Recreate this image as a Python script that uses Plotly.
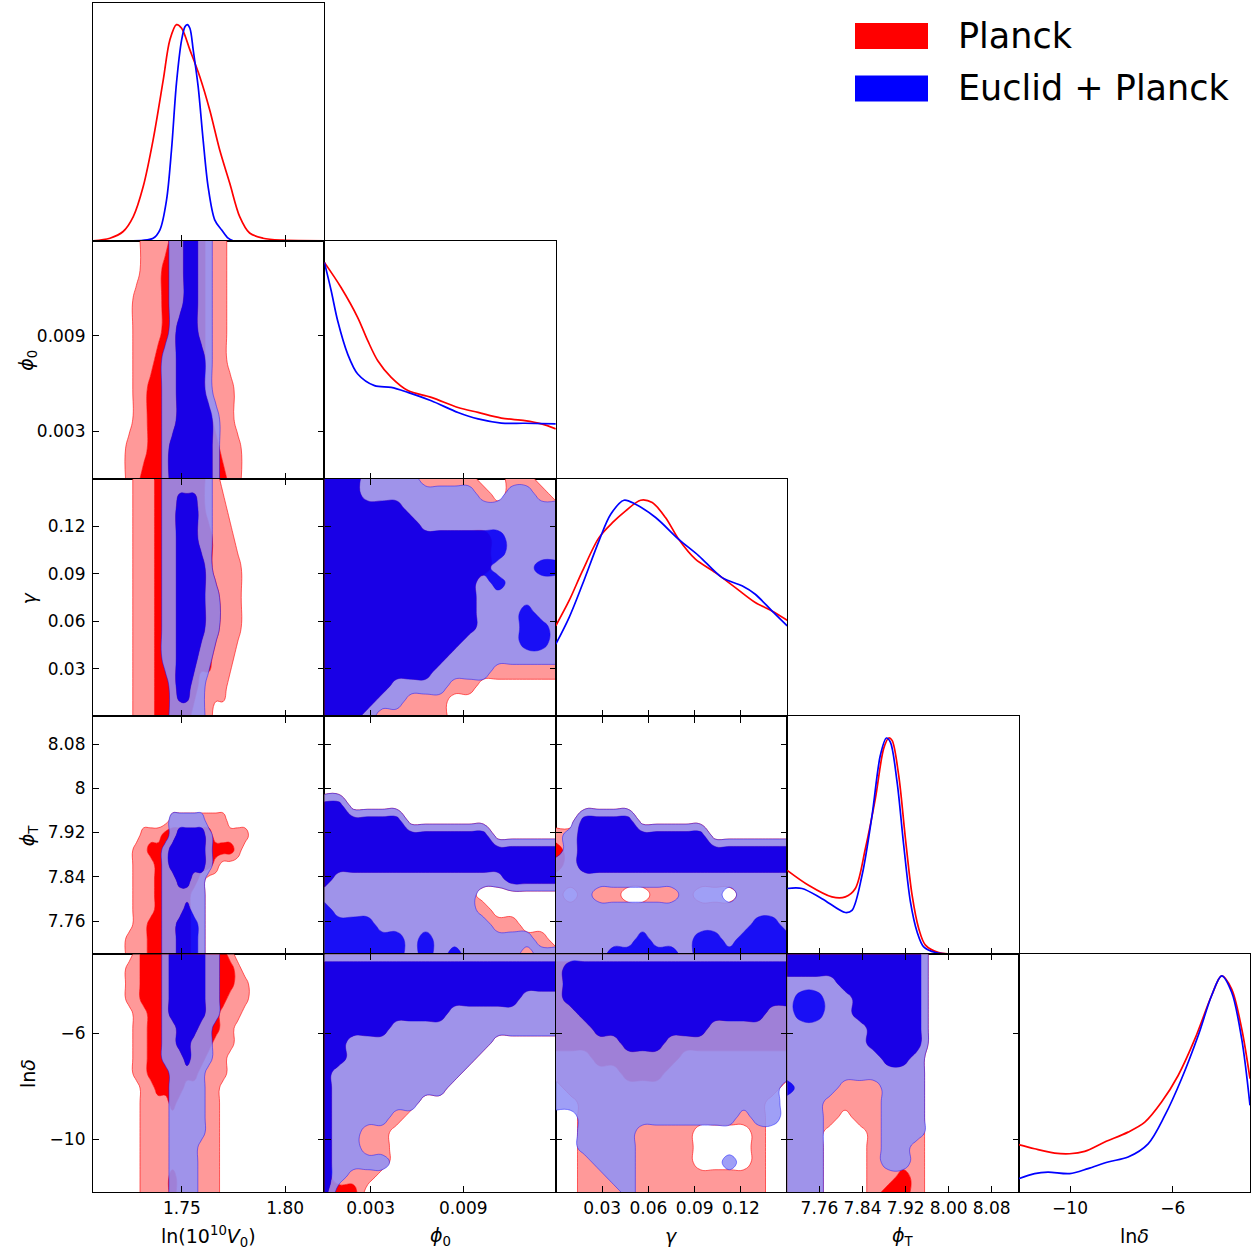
import numpy as np
import plotly.graph_objects as go

W, H = 1256, 1250
X_EDGES = [93, 324.4, 555.8, 787.2, 1018.6, 1250]
Y_EDGES = [3, 240.8, 478.6, 716.4, 954.2, 1192]

LABELS = ["ln(10<sup>10</sup><i>V</i><sub>0</sub>)", "<i>ϕ</i><sub>0</sub>", "<i>γ</i>",
          "<i>ϕ</i><sub>T</sub>", "ln<i>δ</i>"]
RANGES = [[1.707, 1.819], [0.0, 0.015], [0.0, 0.15], [7.70, 8.13], [-12.0, -3.0]]
TICKVALS = [[1.75, 1.80], [0.003, 0.009], [0.03, 0.06, 0.09, 0.12],
            [7.76, 7.84, 7.92, 8.00, 8.08], [-10, -6]]
XTICKTEXT = [["1.75", "1.80"], ["0.003", "0.009"], ["0.03", "0.06", "0.09", "0.12"],
             ["7.76", "7.84", "7.92", "8.00", "8.08"], ["\u221210", "\u22126"]]
YTICKTEXT = [["1.75", "1.80"], ["0.003", "0.009"], ["0.03", "0.06", "0.09", "0.12"],
             ["7.76", "7.84", "7.92", "8", "8.08"], ["\u221210", "\u22126"]]

# ---------------- 1D marginal densities ----------------
LNV0_X_PLANCK = [1.7071, 1.7152, 1.7216, 1.7265, 1.7313, 1.7361, 1.7410, 1.7442, 1.7474, 1.7499,
                 1.7539, 1.7587, 1.7635, 1.7683, 1.7732, 1.7780, 1.7828, 1.7893, 1.7989, 1.8190]
LNV0_P_PLANCK = [0.0, 0.012, 0.043, 0.112, 0.251, 0.467, 0.744, 0.929, 1.0, 0.983,
                 0.883, 0.759, 0.605, 0.421, 0.266, 0.112, 0.036, 0.012, 0.003, 0.0]
LNV0_X_EUCLID = [1.7233, 1.7361, 1.7394, 1.7426, 1.7450, 1.7474, 1.7499, 1.7515, 1.7526,
                 1.7539, 1.7555, 1.7579, 1.7603, 1.7627, 1.7659, 1.7692, 1.7724, 1.7748]
LNV0_P_EUCLID = [0.0, 0.012, 0.051, 0.189, 0.421, 0.729, 0.929, 0.990, 1.0,
                 0.983, 0.883, 0.713, 0.467, 0.251, 0.097, 0.051, 0.012, 0.0]

PHI0_X_PLANCK = [0.0, 0.00108, 0.00216, 0.00281, 0.00346, 0.00433, 0.00541, 0.00693, 0.00866,
                 0.00996, 0.01147, 0.01299, 0.01407, 0.0150]
PHI0_P_PLANCK = [1.0, 0.884, 0.745, 0.638, 0.545, 0.468, 0.407, 0.376, 0.329,
                 0.306, 0.280, 0.268, 0.253, 0.230]
PHI0_X_EUCLID = [0.0, 0.00044, 0.00086, 0.00151, 0.00216, 0.00325, 0.00433, 0.00541, 0.00693,
                 0.00866, 0.00996, 0.01147, 0.01299, 0.0150]
PHI0_P_EUCLID = [1.0, 0.869, 0.730, 0.576, 0.484, 0.430, 0.422, 0.399, 0.360,
                 0.306, 0.276, 0.257, 0.256, 0.253]

GAMMA_X_PLANCK = [0.0, 0.0086, 0.0173, 0.0280, 0.0367, 0.0453, 0.0550, 0.0625, 0.0711, 0.0797,
                  0.0905, 0.1034, 0.1164, 0.1293, 0.1401, 0.1500]
GAMMA_P_PLANCK = [0.419, 0.535, 0.673, 0.827, 0.896, 0.951, 1.0, 0.989, 0.920, 0.819,
                  0.727, 0.665, 0.596, 0.527, 0.488, 0.445]
GAMMA_X_EUCLID = [0.0, 0.0086, 0.0173, 0.0280, 0.0356, 0.0442, 0.0517, 0.0647, 0.0797, 0.0927,
                  0.1078, 0.1207, 0.1293, 0.1401, 0.1500]
GAMMA_P_EUCLID = [0.334, 0.457, 0.611, 0.812, 0.935, 1.0, 0.981, 0.920, 0.819, 0.743,
                  0.642, 0.604, 0.565, 0.488, 0.419]

PHIT_X_PLANCK = [7.700, 7.7397, 7.7832, 7.8080, 7.8266, 7.8452, 7.8638, 7.8793, 7.8886,
                 7.8949, 7.9072, 7.9197, 7.9321, 7.9444, 7.9569, 7.9816, 8.0438, 8.130]
PHIT_P_PLANCK = [0.388, 0.319, 0.265, 0.265, 0.304, 0.488, 0.720, 0.951, 1.0,
                 0.989, 0.827, 0.535, 0.273, 0.119, 0.042, 0.008, 0.0, 0.0]
PHIT_X_EUCLID = [7.700, 7.7274, 7.7646, 7.8080, 7.8204, 7.8391, 7.8577, 7.8731, 7.8843,
                 7.8917, 7.9042, 7.9165, 7.9290, 7.9414, 7.9537, 7.9755, 8.0438, 8.130]
PHIT_P_EUCLID = [0.304, 0.304, 0.257, 0.193, 0.203, 0.365, 0.642, 0.920, 1.0,
                 0.981, 0.796, 0.504, 0.242, 0.103, 0.034, 0.008, 0.0, 0.0]

LND_X_PLANCK = [-12.0, -11.377, -10.597, -10.013, -9.429, -8.649, -7.742, -7.091, -6.440,
                -5.794, -5.143, -4.492, -4.103, -3.713, -3.323, -3.0]
LND_P_PLANCK = [0.219, 0.200, 0.180, 0.177, 0.188, 0.231, 0.277, 0.323, 0.416,
                0.539, 0.708, 0.909, 1.0, 0.939, 0.755, 0.524]
LND_X_EUCLID = [-12.0, -11.377, -10.858, -10.013, -9.300, -8.521, -7.742, -6.962, -6.312,
                -5.661, -5.014, -4.492, -4.103, -3.713, -3.323, -3.0]
LND_P_EUCLID = [0.061, 0.085, 0.092, 0.085, 0.108, 0.139, 0.162, 0.223, 0.354,
                0.524, 0.724, 0.909, 1.0, 0.924, 0.708, 0.401]

# ---------------- 2D confidence-level grids (0 = outside, 1 = 95%, 2 = 68%), top row first ----------------
PLANCK_PHI0_LNV0 = [
    "000000011112222211100000000000000",
    "000000011122222211100000000000000",
    "000000111122222211100000000000000",
    "000000111122222211100000000000000",
    "000000111222222211100000000000000",
    "000000112222222211110000000000000",
    "000000112222222221110000000000000",
    "000001112222222222111000000000000",
    "000001122222222222211000000000000",
]
EUCLID_PHI0_LNV0 = [
    "000000000001122110000000000000000",
    "000000000001122110000000000000000",
    "000000000001122110000000000000000",
    "000000000001222110000000000000000",
    "000000000011222210000000000000000",
    "000000000011222210000000000000000",
    "000000000011222221000000000000000",
    "000000000012222221000000000000000",
    "000000000012222221000000000000000",
]
PLANCK_GAMMA_LNV0 = [
    "000000111222222211000000000000000",
    "000000111222222211100000000000000",
    "000000111222222221110000000000000",
    "000000111222222221111000000000000",
    "000000111222222222111000000000000",
    "000000111222222222111000000000000",
    "000000111222222221110000000000000",
    "000000111222222111100000000000000",
    "000000111222221110000000000000000",
]
EUCLID_GAMMA_LNV0 = [
    "000000000011111110000000000000000",
    "000000000011222110000000000000000",
    "000000000011222110000000000000000",
    "000000000011222210000000000000000",
    "000000000011222211000000000000000",
    "000000000011222211000000000000000",
    "000000000011222110000000000000000",
    "000000000001221100000000000000000",
    "000000000001111100000000000000000",
]
PLANCK_PHIT_LNV0 = [
    "000000000000000000000000000000000",
    "000000000000000000000000000000000",
    "000000000000000000000000000000000",
    "000000000000000000000000000000000",
    "000000000000000000000000000000000",
    "000000000000000000000000000000000",
    "000000000000000000000000000000000",
    "000000000001111111100000000000000",
    "000000011122222221111100000000000",
    "000000112222222222221000000000000",
    "000000111222222221000000000000000",
    "000000111222222100000000000000000",
    "000000111222221100000000000000000",
    "000000111222221100000000000000000",
    "000000112222221100000000000000000",
    "000001112222221100000000000000000",
    "000001112222221100000000000000000",
]
EUCLID_PHIT_LNV0 = [
    "000000000000000000000000000000000",
    "000000000000000000000000000000000",
    "000000000000000000000000000000000",
    "000000000000000000000000000000000",
    "000000000000000000000000000000000",
    "000000000000000000000000000000000",
    "000000000000000000000000000000000",
    "000000000001111100000000000000000",
    "000000000001222210000000000000000",
    "000000000012222210000000000000000",
    "000000000012222210000000000000000",
    "000000000011221100000000000000000",
    "000000000011111100000000000000000",
    "000000000011121100000000000000000",
    "000000000011222100000000000000000",
    "000000000011222100000000000000000",
    "000000000011222100000000000000000",
]
PLANCK_LND_LNV0 = [
    "000000122222222222210000000000000",
    "000001122222222222221000000000000",
    "000001122222222222221100000000000",
    "000001122222222222211100000000000",
    "000000112222222222111000000000000",
    "000000112222222222110000000000000",
    "000000112222222221110000000000000",
    "000000112222222211100000000000000",
    "000000112222222111100000000000000",
    "000000011222211111000000000000000",
    "000000011112111111000000000000000",
    "000000011111111111000000000000000",
    "000000011111111111000000000000000",
    "000000011111111111000000000000000",
    "000000011111111111000000000000000",
    "000000011112111111000000000000000",
    "000000011112111111000000000000000",
]
EUCLID_LND_LNV0 = [
    "000000000012222211000000000000000",
    "000000000012222211000000000000000",
    "000000000012222211000000000000000",
    "000000000012222211000000000000000",
    "000000000012222211000000000000000",
    "000000000011222110000000000000000",
    "000000000011221110000000000000000",
    "000000000011121110000000000000000",
    "000000000001111100000000000000000",
    "000000000001111100000000000000000",
    "000000000001111100000000000000000",
    "000000000001111100000000000000000",
    "000000000001111100000000000000000",
    "000000000001111000000000000000000",
    "000000000001111000000000000000000",
    "000000000001111000000000000000000",
    "000000000001111000000000000000000",
]
PLANCK_GAMMA_PHI0 = [
    "22211111111001100",
    "22211111111101110",
    "22222211111111111",
    "22222221111111111",
    "22222222222211111",
    "22222222222211111",
    "22222222222211111",
    "22222222222111111",
    "22222222222111111",
    "22222222222111111",
    "22222222222111111",
    "22222222221111111",
    "22222222211111111",
    "22222222111111111",
    "22222111111000000",
    "22221111100000000",
    "22211111100000000",
]
EUCLID_GAMMA_PHI0 = [
    "22211110000000000",
    "22211111111001100",
    "22222211111111111",
    "22222221111111111",
    "22222222222221111",
    "22222222222221111",
    "22222222222211122",
    "22222222222121111",
    "22222222222111111",
    "22222222222111211",
    "22222222222111221",
    "22222222221111221",
    "22222222211111111",
    "22222222111100000",
    "22222111100000000",
    "22221100000000000",
    "22210000000000000",
]
PLANCK_PHIT_PHI0 = [
    "00000000000000000",
    "00000000000000000",
    "00000000000000000",
    "00000000000000000",
    "00000000000000000",
    "00000000000000000",
    "22000000000000000",
    "22222200000000000",
    "22222222222200000",
    "22222222222222222",
    "22222222222222222",
    "21111111111112222",
    "11111111111000000",
    "11111111111100000",
    "11111111111111000",
    "11111111111111110",
    "11111111111111111",
]
EUCLID_PHIT_PHI0 = [
    "00000000000000000",
    "00000000000000000",
    "00000000000000000",
    "00000000000000000",
    "00000000000000000",
    "00000000000000000",
    "22000000000000000",
    "22222200000000000",
    "22222222222200000",
    "22222222222222222",
    "22222222222222222",
    "21111111111112222",
    "11111111111000000",
    "21111111111000000",
    "22221111111100000",
    "22222212111111100",
    "22222212121111011",
]
PLANCK_PHIT_GAMMA = [
    "00000000000000000",
    "00000000000000000",
    "00000000000000000",
    "00000000000000000",
    "00000000000000000",
    "00000000000000000",
    "00000000000000000",
    "00222200000000000",
    "11222222222000000",
    "21222222222222222",
    "21222222222222222",
    "11111111111111111",
    "10111001110001111",
    "11111111111111111",
    "11111111111111111",
    "11111111111111111",
    "11111111111111111",
]
EUCLID_PHIT_GAMMA = [
    "00000000000000000",
    "00000000000000000",
    "00000000000000000",
    "00000000000000000",
    "00000000000000000",
    "00000000000000000",
    "00000000000000000",
    "00222200000000000",
    "01222222222000000",
    "01222222222222222",
    "11222222222222222",
    "11111111111111111",
    "11100000011101111",
    "11111111111111111",
    "11111111111111221",
    "11111121112212222",
    "11112222212222222",
]
PLANCK_LND_PHI0 = [
    "11111111111111111",
    "22222222222222222",
    "22222222222222222",
    "22222222222222111",
    "22222222211111111",
    "22222111111111111",
    "22111111111100000",
    "22111111111000000",
    "21111111110000000",
    "21111111100000000",
    "21111110000000000",
    "21111100000000000",
    "21111000000000000",
    "21111000000000000",
    "21111000000000000",
    "21110000000000000",
    "22200000000000000",
]
EUCLID_LND_PHI0 = [
    "11111111111111111",
    "22222222222222222",
    "22222222222222222",
    "22222222222222111",
    "22222222211111111",
    "22222111111111111",
    "22111111111100000",
    "22111111111000000",
    "21111111110000000",
    "21111111100000000",
    "21111110000000000",
    "21111000000000000",
    "21100000000000000",
    "21100000000000000",
    "21111000000000000",
    "21000000000000000",
    "20000000000000000",
]
PLANCK_LND_GAMMA = [
    "11111111111111111",
    "22222222222222222",
    "22222222222222222",
    "22222222222222222",
    "22222222222222222",
    "22222222222222222",
    "22222222222222222",
    "11122222211111111",
    "11111222111111111",
    "01111111111111110",
    "00111111111111100",
    "00111111111111100",
    "00111111110000100",
    "00111111110000100",
    "00111111110000100",
    "00111111111111100",
    "00111111111111100",
]
EUCLID_LND_GAMMA = [
    "11111111111111111",
    "12222222222222222",
    "12222222222222222",
    "12222222222222222",
    "11222222222222211",
    "11122222222111111",
    "11111222111111111",
    "11111111111111111",
    "11111111111111111",
    "11111111111111110",
    "11111111111111110",
    "00111111111110110",
    "00111100000000000",
    "00111100000000000",
    "00011100000010000",
    "00001100000000000",
    "00000100000000000",
]
PLANCK_LND_PHIT = [
    "22222222220000000",
    "22222222220000000",
    "11112222220000000",
    "11111222220000000",
    "11111222220000000",
    "11111122220000000",
    "11111122220000000",
    "11111112210000000",
    "11111111110000000",
    "11111111110000000",
    "11111111110000000",
    "11110111110000000",
    "11100011110000000",
    "11100011110000000",
    "11100011110000000",
    "11100011210000000",
    "11100012210000000",
]
EUCLID_LND_PHIT = [
    "22222222220000000",
    "22222222220000000",
    "11112222220000000",
    "12211222220000000",
    "12211222220000000",
    "11111122220000000",
    "11111122220000000",
    "11111112210000000",
    "11111111110000000",
    "21110001110000000",
    "11100001110000000",
    "11100001110000000",
    "11100001110000000",
    "11100001100000000",
    "11100001100000000",
    "11100000000000000",
    "11100000000000000",
]

GRIDS = {
    (1, 0): (PLANCK_PHI0_LNV0, EUCLID_PHI0_LNV0),
    (2, 0): (PLANCK_GAMMA_LNV0, EUCLID_GAMMA_LNV0),
    (3, 0): (PLANCK_PHIT_LNV0, EUCLID_PHIT_LNV0),
    (4, 0): (PLANCK_LND_LNV0, EUCLID_LND_LNV0),
    (2, 1): (PLANCK_GAMMA_PHI0, EUCLID_GAMMA_PHI0),
    (3, 1): (PLANCK_PHIT_PHI0, EUCLID_PHIT_PHI0),
    (4, 1): (PLANCK_LND_PHI0, EUCLID_LND_PHI0),
    (3, 2): (PLANCK_PHIT_GAMMA, EUCLID_PHIT_GAMMA),
    (4, 2): (PLANCK_LND_GAMMA, EUCLID_LND_GAMMA),
    (4, 3): (PLANCK_LND_PHIT, EUCLID_LND_PHIT),
}
CURVES = [
    ((LNV0_X_PLANCK, LNV0_P_PLANCK), (LNV0_X_EUCLID, LNV0_P_EUCLID)),
    ((PHI0_X_PLANCK, PHI0_P_PLANCK), (PHI0_X_EUCLID, PHI0_P_EUCLID)),
    ((GAMMA_X_PLANCK, GAMMA_P_PLANCK), (GAMMA_X_EUCLID, GAMMA_P_EUCLID)),
    ((PHIT_X_PLANCK, PHIT_P_PLANCK), (PHIT_X_EUCLID, PHIT_P_EUCLID)),
    ((LND_X_PLANCK, LND_P_PLANCK), (LND_X_EUCLID, LND_P_EUCLID)),
]

RED = "#ff0000"
BLUE = "#0000ff"
STYLE = {
    "planck": dict(light="rgb(255,153,153)", dark="rgb(255,0,0)", edge="rgba(255,0,0,0.75)", line=RED),
    "euclid": dict(light="rgba(146,146,245,0.88)", dark="rgba(0,0,255,0.9)", edge="rgba(0,0,255,0.55)", line=BLUE),
}
FONT = "DejaVu Sans"
SMOOTH = 1.3

fig = go.Figure()
panel_id = {}
k = 0
for r in range(5):
    for c in range(r + 1):
        k += 1
        panel_id[(r, c)] = k


def ref(k, a):
    return a if k == 1 else f"{a}{k}"


def to_z(rows):
    n = max(len(s) for s in rows)
    rows = [s.ljust(n, "0")[:n] for s in rows]
    return np.array([[int(ch) for ch in s] for s in rows[::-1]], dtype=float)


def add_2d(rows, xr, yr, xa, ya, st):
    # plotly shades the *invalid* region of a constraint contour
    z = to_z(rows)
    ny, nx = z.shape
    xs = np.linspace(xr[0], xr[1], nx)
    ys = np.linspace(yr[0], yr[1], ny)
    fig.add_trace(go.Contour(
        x=xs, y=ys, z=z, showscale=False, hoverinfo="skip", showlegend=False,
        contours=dict(type="constraint", operation=")(", value=[0.5, 1.5]),
        fillcolor=st["light"], line=dict(color=st["edge"], width=0.8, smoothing=SMOOTH),
        xaxis=xa, yaxis=ya))
    fig.add_trace(go.Contour(
        x=xs, y=ys, z=z, showscale=False, hoverinfo="skip", showlegend=False,
        contours=dict(type="constraint", operation="<", value=1.5),
        fillcolor=st["dark"], line=dict(color=st["dark"], width=0, smoothing=SMOOTH),
        xaxis=xa, yaxis=ya))


layout = {}
axis_common = dict(showline=True, linecolor="black", linewidth=1.2, showgrid=False, zeroline=False,
                   tickcolor="black", ticklen=6, tickwidth=1.2,
                   tickfont=dict(family=FONT, size=17, color="black"))
for (r, c), k in panel_id.items():
    xa, ya = ref(k, "x"), ref(k, "y")
    xdom = [X_EDGES[c] / W, X_EDGES[c + 1] / W]
    ydom = [1 - Y_EDGES[r + 1] / H, 1 - Y_EDGES[r] / H]
    diag = (r == c)
    xax = dict(axis_common, domain=xdom, range=RANGES[c], anchor=ya, tickmode="array",
               tickvals=TICKVALS[c], ticktext=XTICKTEXT[c], showticklabels=(r == 4),
               ticks="inside", mirror=(True if diag else "ticks"), ticklabelstandoff=0)
    if diag:
        yax = dict(axis_common, domain=ydom, range=[0, 1.1], anchor=xa, showticklabels=False,
                   ticks="", mirror=True)
    else:
        yax = dict(axis_common, domain=ydom, range=RANGES[r], anchor=xa, tickmode="array",
                   tickvals=TICKVALS[r], ticktext=YTICKTEXT[r], showticklabels=(c == 0),
                   ticks="inside", mirror="ticks", ticklabelstandoff=3)
    layout["xaxis" if k == 1 else f"xaxis{k}"] = xax
    layout["yaxis" if k == 1 else f"yaxis{k}"] = yax

# 2D panels: Planck first, Euclid + Planck on top
for key in ["planck", "euclid"]:
    for (r, c), grids in GRIDS.items():
        k = panel_id[(r, c)]
        rows = grids[0] if key == "planck" else grids[1]
        add_2d(rows, RANGES[c], RANGES[r], ref(k, "x"), ref(k, "y"), STYLE[key])

# 1D panels
for i in range(5):
    k = panel_id[(i, i)]
    for key, (xs, ps) in zip(["planck", "euclid"], CURVES[i]):
        fig.add_trace(go.Scatter(x=xs, y=ps, mode="lines", showlegend=False, hoverinfo="skip",
                                 line=dict(color=STYLE[key]["line"], width=1.7, shape="spline", smoothing=0.9),
                                 xaxis=ref(k, "x"), yaxis=ref(k, "y")))

annotations = []
for c in range(5):
    annotations.append(dict(text=LABELS[c], x=(X_EDGES[c] + X_EDGES[c + 1]) / 2 / W, y=1 - 1236 / H,
                            xref="paper", yref="paper", showarrow=False, xanchor="center", yanchor="middle",
                            font=dict(family=FONT, size=19, color="black")))
for r in range(1, 5):
    annotations.append(dict(text=LABELS[r], x=28 / W, y=1 - (Y_EDGES[r] + Y_EDGES[r + 1]) / 2 / H,
                            xref="paper", yref="paper", showarrow=False, xanchor="center", yanchor="middle",
                            textangle=-90, font=dict(family=FONT, size=19, color="black")))

LEGEND_NAMES = ["Planck", "Euclid + Planck"]
LEGEND_COLORS = [RED, BLUE]
shapes = []
for i, (name, col) in enumerate(zip(LEGEND_NAMES, LEGEND_COLORS)):
    y0, y1 = 23 + i * 52.5, 49 + i * 52.5
    shapes.append(dict(type="rect", xref="paper", yref="paper", x0=855 / W, x1=928 / W,
                       y0=1 - y1 / H, y1=1 - y0 / H, fillcolor=col, line=dict(width=0)))
    annotations.append(dict(text=name, x=956 / W, y=1 - (y0 + y1) / 2 / H, xref="paper", yref="paper",
                            showarrow=False, xanchor="left", yanchor="middle",
                            font=dict(family=FONT, size=35, color="black")))

fig.update_layout(width=W, height=H, margin=dict(l=0, r=0, t=0, b=0),
                  paper_bgcolor="white", plot_bgcolor="white", showlegend=False,
                  annotations=annotations, shapes=shapes, font=dict(family=FONT), **layout)
fig.write_html("out.html")
